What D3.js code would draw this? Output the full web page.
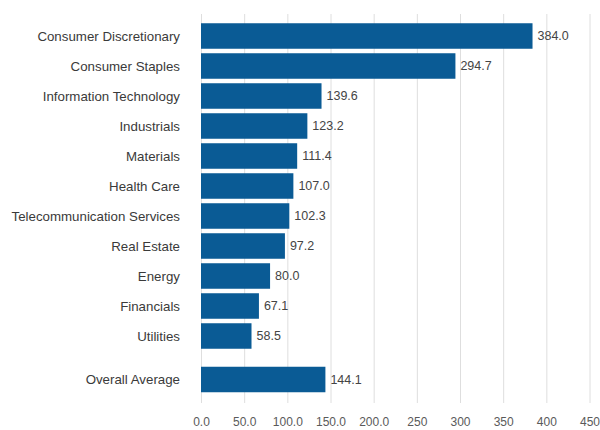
<!DOCTYPE html>
<html>
<head>
<meta charset="utf-8">
<script src="https://cdn.jsdelivr.net/npm/d3@7"></script>
<style>
  html, body { margin: 0; padding: 0; background: #fff; }
  svg { display: block; font-family: "Liberation Sans", Arial, sans-serif; }
</style>
</head>
<body>
<svg id="chart" width="600" height="430"></svg>
<script>
// Sector values
const sectors = [
  "Consumer Discretionary", "Consumer Staples", "Information Technology",
  "Industrials", "Materials", "Health Care", "Telecommunication Services",
  "Real Estate", "Energy", "Financials", "Utilities"
];
const sectorValues = [384.0, 294.7, 139.6, 123.2, 111.4, 107.0, 102.3, 97.2, 80.0, 67.1, 58.5];
const averageLabel = "Overall Average";
const averageValue = 144.1;
const tickValues = [0, 50, 100, 150, 200, 250, 300, 350, 400, 450];
const tickLabels = ["0.0", "50.0", "100.0", "150.0", "200.0", "250", "300", "350", "400", "450"];

const barColor = "#0a5b95";
const svg = d3.select("#chart");

const x = d3.scaleLinear().domain([0, 450]).range([201, 589.5]);

const y = d3.scaleBand()
  .domain(sectors)
  .range([21, 351])
  .paddingInner(0.15)
  .paddingOuter(0.075);

const rows = sectors.map((s, i) => ({ name: s, value: sectorValues[i], y: y(s) }));
rows.push({ name: averageLabel, value: averageValue, y: y(sectors[sectors.length - 1]) + y.step() * 1.45 });

// vertical gridlines
svg.append("g")
  .selectAll("line")
  .data(tickValues)
  .join("line")
  .attr("x1", d => x(d) + 0.5)
  .attr("x2", d => x(d) + 0.5)
  .attr("y1", 14)
  .attr("y2", 403)
  .attr("stroke", "#dedede")
  .attr("stroke-width", 1);

// bottom axis labels (no domain line or ticks)
const xAxis = d3.axisBottom(x)
  .tickValues(tickValues)
  .tickFormat((d, i) => tickLabels[i])
  .tickSize(0)
  .tickPadding(0);

const axisG = svg.append("g")
  .attr("transform", "translate(0,417)")
  .call(xAxis);
axisG.select(".domain").remove();
axisG.selectAll("text")
  .attr("font-family", "Liberation Sans, Arial, sans-serif")
  .attr("font-size", 12)
  .attr("fill", "#5a5a5a");

// bars
svg.append("g")
  .selectAll("rect")
  .data(rows)
  .join("rect")
  .attr("x", x(0))
  .attr("y", d => d.y)
  .attr("width", d => x(d.value) - x(0))
  .attr("height", y.bandwidth())
  .attr("fill", barColor);

// category labels
svg.append("g")
  .selectAll("text")
  .data(rows)
  .join("text")
  .attr("x", 180)
  .attr("y", d => d.y + y.bandwidth() / 2)
  .attr("dy", "0.35em")
  .attr("text-anchor", "end")
  .attr("font-size", 13.3)
  .attr("fill", "#3a3a3a")
  .text(d => d.name);

// value labels
svg.append("g")
  .selectAll("text")
  .data(rows)
  .join("text")
  .attr("x", d => x(d.value) + 5)
  .attr("y", d => d.y + y.bandwidth() / 2)
  .attr("dy", "0.35em")
  .attr("font-size", 12.5)
  .attr("fill", "#444")
  .text(d => d.value.toFixed(1));
</script>
</body>
</html>
